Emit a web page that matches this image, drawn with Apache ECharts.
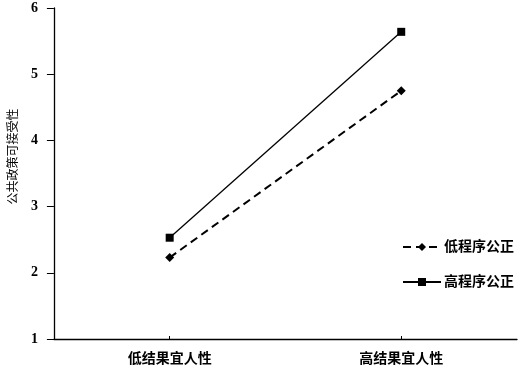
<!DOCTYPE html>
<html><head><meta charset="utf-8">
<script src="https://cdn.jsdelivr.net/npm/echarts@6/dist/echarts.min.js"></script>
<style>html,body{margin:0;padding:0;background:#fff}#c{width:524px;height:371px}</style>
</head><body><div id="c"></div>
<script>
var categories = ['低结果宜人性', '高结果宜人性'];
var seriesNames = ['低程序公正', '高程序公正'];
var lowFairness = [2.23, 4.75];
var highFairness = [2.53, 5.64];
var yTicks = [1, 2, 3, 4, 5, 6];
var yName = '公共政策可接受性';

var cjk = '"Liberation Serif","Noto Sans CJK SC",serif';
var chart = echarts.init(document.getElementById('c'), null, {renderer: 'canvas'});
chart.setOption({
  animation: false,
  backgroundColor: '#fff',
  grid: {left: 52, right: 7, top: 8, bottom: 32},
  legend: {
    orient: 'vertical', left: 397, top: 235, itemWidth: 38, itemHeight: 10, itemGap: 21,
    textStyle: {fontFamily: cjk, fontSize: 14, fontWeight: 'bold', color: '#000', padding: [0,0,0,-2]},
    data: seriesNames
  },
  xAxis: {
    type: 'category', data: categories, boundaryGap: true,
    axisLine: {lineStyle: {color: '#000', width: 1.3}},
    axisTick: {show: true, alignWithLabel: true, inside: true, length: 3, lineStyle: {color: '#000'}},
    axisLabel: {fontFamily: cjk, fontSize: 14, fontWeight: 'bold', color: '#000', margin: 13}
  },
  yAxis: {
    type: 'value', min: yTicks[0], max: yTicks[yTicks.length-1], interval: 1,
    name: yName, nameLocation: 'middle', nameGap: 33,
    nameTextStyle: {fontFamily: cjk, fontSize: 12, color: '#000', padding: [0, 0, 0, 34]},
    splitLine: {show: false},
    axisLine: {show: true, lineStyle: {color: '#000', width: 1.3}},
    axisTick: {show: true, length: 7, lineStyle: {color: '#000'}},
    axisLabel: {fontFamily: '"Liberation Serif",serif', fontSize: 14, fontWeight: 'bold', color: '#000', margin: 16}
  },
  series: [{
    name: seriesNames[0], type: 'line', data: lowFairness,
    symbol: 'diamond', symbolSize: 9,
    lineStyle: {color: '#000', width: 2, type: [8, 5]},
    itemStyle: {color: '#000'}
  }, {
    name: seriesNames[1], type: 'line', data: highFairness,
    symbol: 'rect', symbolSize: 8,
    lineStyle: {color: '#000', width: 1.3, type: 'solid'},
    itemStyle: {color: '#000'}
  }]
});
</script></body></html>
